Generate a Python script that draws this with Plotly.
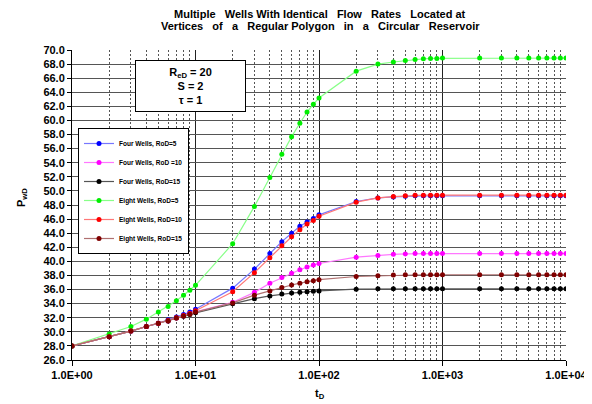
import plotly.graph_objects as go

t_D = [1, 2, 3, 4, 5, 6, 7, 8, 9, 10,
       20, 30, 40, 50, 60, 70, 80, 90, 100,
       200, 300, 400, 500, 600, 700, 800, 900, 1000,
       2000, 3000, 4000, 5000, 6000, 7000, 8000, 9000, 10000]

four_rod5 = [28.0, 29.3, 30.1, 30.75, 31.2, 31.7, 32.1, 32.45, 32.8, 33.2,
             36.2, 38.9, 41.1, 42.8, 44.0, 45.0, 45.6, 46.1, 46.6,
             48.5, 49.0, 49.15, 49.25, 49.3, 49.3, 49.3, 49.3, 49.3,
             49.3, 49.3, 49.3, 49.3, 49.3, 49.3, 49.3, 49.3, 49.3]
four_rod10 = [28.0, 29.3, 30.1, 30.75, 31.2, 31.55, 31.95, 32.25, 32.55, 32.85,
              34.2, 35.6, 36.9, 37.7, 38.3, 38.8, 39.2, 39.5, 39.7,
              40.6, 40.85, 41.0, 41.05, 41.1, 41.1, 41.1, 41.1, 41.1,
              41.1, 41.1, 41.1, 41.1, 41.1, 41.1, 41.1, 41.1, 41.1]
four_rod15 = [28.0, 29.3, 30.1, 30.75, 31.2, 31.55, 31.95, 32.2, 32.45, 32.7,
              34.0, 34.7, 35.1, 35.35, 35.5, 35.6, 35.7, 35.75, 35.8,
              36.05, 36.1, 36.1, 36.1, 36.1, 36.1, 36.1, 36.1, 36.1,
              36.1, 36.1, 36.1, 36.1, 36.1, 36.1, 36.1, 36.1, 36.1]
eight_rod5 = [28.0, 29.7, 30.75, 31.8, 32.8, 33.6, 34.4, 35.2, 35.9, 36.6,
              42.5, 47.8, 51.9, 55.2, 57.7, 59.6, 61.2, 62.3, 63.2,
              67.0, 68.0, 68.3, 68.5, 68.65, 68.75, 68.8, 68.8, 68.85,
              68.85, 68.85, 68.85, 68.85, 68.85, 68.85, 68.85, 68.85, 68.85]
eight_rod10 = [28.0, 29.3, 30.1, 30.75, 31.2, 31.6, 32.0, 32.3, 32.6, 33.0,
               35.7, 38.4, 40.5, 42.2, 43.5, 44.5, 45.3, 45.8, 46.4,
               48.4, 49.0, 49.2, 49.3, 49.4, 49.4, 49.4, 49.4, 49.4,
               49.4, 49.4, 49.4, 49.4, 49.4, 49.4, 49.4, 49.4, 49.4]
eight_rod15 = [28.0, 29.3, 30.1, 30.75, 31.2, 31.55, 31.95, 32.25, 32.5, 32.8,
               34.1, 35.2, 35.8, 36.3, 36.65, 36.9, 37.1, 37.25, 37.4,
               37.85, 37.95, 38.05, 38.1, 38.1, 38.1, 38.1, 38.1, 38.1,
               38.1, 38.1, 38.1, 38.1, 38.1, 38.1, 38.1, 38.1, 38.1]

series_names = ["Four Wells, RoD=5", "Four Wells, RoD =10", "Four Wells, RoD=15",
                "Eight Wells, RoD=5", "Eight Wells, RoD=10", "Eight Wells, RoD=15"]
series_values = [four_rod5, four_rod10, four_rod15, eight_rod5, eight_rod10, eight_rod15]
line_colors = ["#7777ff", "#ff77ff", "#555555", "#88ff88", "#ff7777", "#b07070"]
marker_colors = ["#0000ff", "#ff00ff", "#000000", "#00ee00", "#ff0000", "#800000"]

x_tickvals = [1, 10, 100, 1000, 10000]
x_ticktext = ["1.0E+00", "1.0E+01", "1.0E+02", "1.0E+03", "1.0E+04"]

FONT = "Liberation Sans, Arial, sans-serif"
# page body has an 8px margin: figure coordinates = screen coordinates - 8
W, H = 584, 396
L, T, R, B = 64, 42, 26, 44
PW, PH = W - L - R, H - T - B


def px(X):
    return (X - 8 - L) / PW


def py(Y):
    return (H - B - (Y - 8)) / PH


NB = "\u00a0"
title_l1 = f"Multiple{NB}{NB} Wells With Identical{NB}{NB} Flow{NB}{NB} Rates{NB}{NB} Located at"
title_l2 = f"Vertices{NB}{NB} of{NB}{NB} a{NB}{NB} Regular Polygon{NB}{NB} in{NB}{NB} a{NB}{NB} Circular{NB}{NB} Reservoir"

fig = go.Figure()
for name, vals, lc, mc in zip(series_names, series_values, line_colors, marker_colors):
    fig.add_trace(go.Scatter(
        x=t_D, y=vals, name=name, mode="lines+markers",
        line=dict(color=lc, width=1.2),
        marker=dict(color=mc, size=5, symbol="circle"),
    ))

fig.update_layout(
    width=W, height=H,
    margin=dict(l=L, r=R, t=T, b=B, autoexpand=False),
    paper_bgcolor="white", plot_bgcolor="white",
    font=dict(family=FONT, color="#000", size=10),
    showlegend=True,
    legend=dict(
        x=px(78), y=py(128), xanchor="left", yanchor="top",
        bgcolor="white", bordercolor="#000", borderwidth=1,
        font=dict(size=6.5, weight="bold", family=FONT),
        itemwidth=30, tracegroupgap=0,
    ),
    xaxis=dict(
        type="log", range=[0, 4], automargin=False,
        tickvals=x_tickvals, ticktext=x_ticktext,
        tickfont=dict(size=11, weight="bold"),
        showgrid=True, gridcolor="#222", gridwidth=1,
        showline=True, linecolor="#000", linewidth=1,
        ticks="outside", ticklen=5, tickcolor="#000",
        minor=dict(dtick="D1", showgrid=True, gridcolor="#555", griddash="2px,2px",
                   gridwidth=1, ticks=""),
        zeroline=False, mirror=False,
    ),
    yaxis=dict(
        range=[26, 70], dtick=2, tick0=26, tickformat=".1f", automargin=False,
        tickfont=dict(size=11, weight="bold"),
        showgrid=True, gridcolor="#555", gridwidth=1,
        showline=True, linecolor="#000", linewidth=1,
        ticks="outside", ticklen=4, tickcolor="#000",
        zeroline=False,
    ),
)

for line_text, yc in [(title_l1, 14), (title_l2, 26)]:
    fig.add_annotation(
        xref="paper", yref="paper", x=px(320), y=py(yc),
        xanchor="center", yanchor="middle",
        text=f"<b>{line_text}</b>",
        showarrow=False, align="center",
        font=dict(size=11, family=FONT, color="#000"),
    )

fig.add_annotation(
    xref="paper", yref="paper", x=px(22), y=py(198),
    xanchor="center", yanchor="middle", textangle=-90,
    text="<b>P<sub>wD</sub></b>",
    showarrow=False, font=dict(size=11, family=FONT, color="#000"),
)

fig.add_annotation(
    xref="paper", yref="paper", x=px(320), y=py(394),
    xanchor="center", yanchor="middle",
    text="<b>t<sub>D</sub></b>",
    showarrow=False, font=dict(size=11, family=FONT, color="#000"),
)

fig.add_annotation(
    xref="paper", yref="paper", x=px(190), y=py(86),
    xanchor="center", yanchor="middle",
    text="<b>R<sub>eD</sub> = 20<br>S = 2<br>τ = 1</b>",
    showarrow=False, align="center",
    font=dict(size=11, family=FONT, color="#000"),
    bgcolor="white", bordercolor="#000", borderwidth=1,
    width=107, height=48,
)

fig.write_html("out.html")
